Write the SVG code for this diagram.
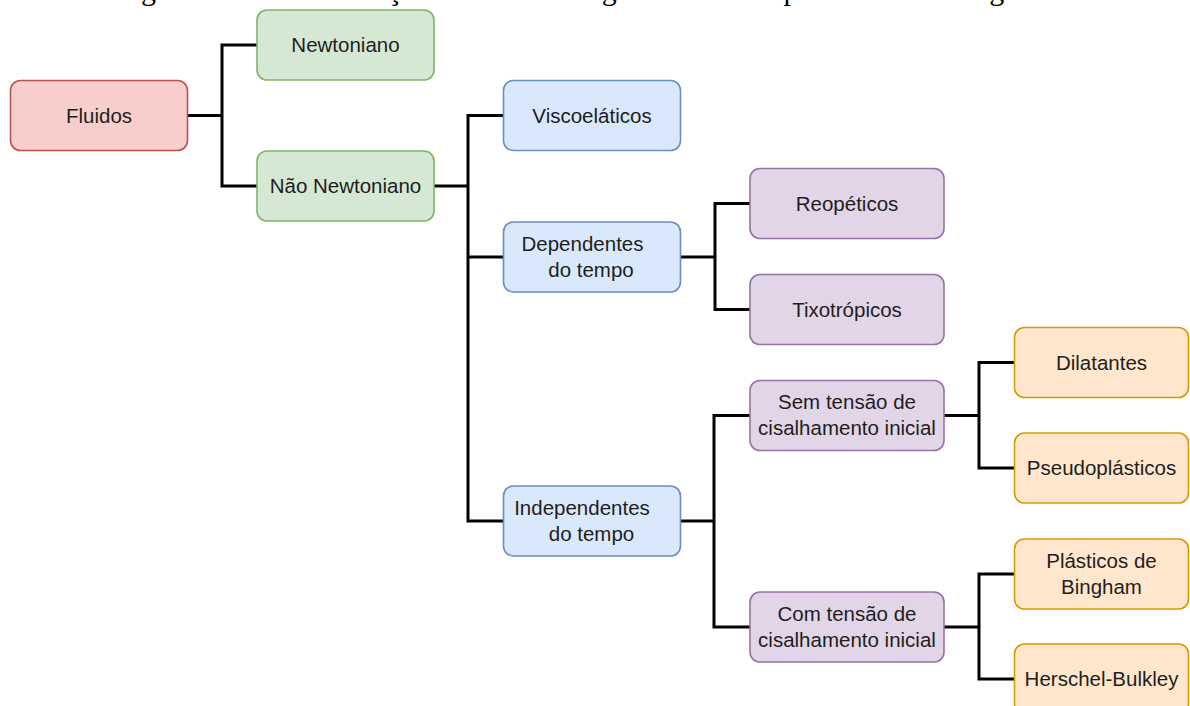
<svg xmlns="http://www.w3.org/2000/svg" width="1190" height="706" viewBox="0 0 1190 706">
<style>
.box{stroke-width:1.6}
.red{fill:#f8cecc;stroke:#b85450}
.green{fill:#d5e8d4;stroke:#82b366}
.blue{fill:#dae8fc;stroke:#6c8ebf}
.purple{fill:#e1d5e7;stroke:#9673a6}
.orange{fill:#ffe6cc;stroke:#d79b00}
.lbl{font-family:"Liberation Sans",Arial,sans-serif;font-size:20.5px;fill:#1e1e1e;text-anchor:middle}
.cap{font-family:"Liberation Serif","Times New Roman",serif;font-size:30px;fill:#000}
.conn{fill:none;stroke:#000;stroke-width:3;stroke-linejoin:miter;stroke-linecap:square}
</style>
<rect width="1190" height="706" fill="#fff"/>
<text class="cap" x="116" y="0.3">Figura 2.1 – Classificação dos fluidos segundo seu comportamento reológico</text>
<g id="connectors">
<path class="conn" d="M188,115.5 H222 M222,45 V186 M222,45 H256 M222,186 H256"/>
<path class="conn" d="M435,186 H468 M468,115.5 V521 M468,115.5 H502 M468,257 H502 M468,521 H502"/>
<path class="conn" d="M681,257 H715 M715,203.5 V309.5 M715,203.5 H749 M715,309.5 H749"/>
<path class="conn" d="M681,521 H714 M714,415.5 V627 M714,415.5 H749 M714,627 H749"/>
<path class="conn" d="M945,415.5 H979 M979,362.5 V468 M979,362.5 H1013 M979,468 H1013"/>
<path class="conn" d="M945,627 H979 M979,574 V679 M979,574 H1013 M979,679 H1013"/>
</g>
<g id="n-fluidos"><rect class="box red" x="10.5" y="80.5" width="177" height="70" rx="10"/><text class="lbl" x="99" y="122.5">Fluidos</text></g>
<g id="n-newtoniano"><rect class="box green" x="257" y="10" width="177" height="70" rx="10"/><text class="lbl" x="345.5" y="52">Newtoniano</text></g>
<g id="n-nao-newtoniano"><rect class="box green" x="257" y="151" width="177" height="70" rx="10"/><text class="lbl" x="345.5" y="193">Não Newtoniano</text></g>
<g id="n-viscoelaticos"><rect class="box blue" x="503.5" y="80.5" width="177" height="70" rx="10"/><text class="lbl" x="592" y="122.5">Viscoeláticos</text></g>
<g id="n-dependentes"><rect class="box blue" x="503.5" y="222" width="177" height="70" rx="10"/><text class="lbl" x="582.5" y="251">Dependentes</text><text class="lbl" x="591" y="277">do tempo</text></g>
<g id="n-independentes"><rect class="box blue" x="503.5" y="486" width="177" height="70" rx="10"/><text class="lbl" x="582" y="515">Independentes</text><text class="lbl" x="591.5" y="541">do tempo</text></g>
<g id="n-reopeticos"><rect class="box purple" x="750" y="168.5" width="194" height="70" rx="10"/><text class="lbl" x="847" y="210.5">Reopéticos</text></g>
<g id="n-tixotropicos"><rect class="box purple" x="750" y="274.5" width="194" height="70" rx="10"/><text class="lbl" x="847" y="316.5">Tixotrópicos</text></g>
<g id="n-sem-tensao"><rect class="box purple" x="750" y="380.5" width="194" height="70" rx="10"/><text class="lbl" x="847" y="409">Sem tensão de</text><text class="lbl" x="847" y="435">cisalhamento inicial</text></g>
<g id="n-com-tensao"><rect class="box purple" x="750" y="592" width="194" height="70" rx="10"/><text class="lbl" x="847" y="620.5">Com tensão de</text><text class="lbl" x="847" y="646.5">cisalhamento inicial</text></g>
<g id="n-dilatantes"><rect class="box orange" x="1014.5" y="327.5" width="174" height="70" rx="10"/><text class="lbl" x="1101.5" y="369.5">Dilatantes</text></g>
<g id="n-pseudoplasticos"><rect class="box orange" x="1014.5" y="433" width="174" height="70" rx="10"/><text class="lbl" x="1101.5" y="475">Pseudoplásticos</text></g>
<g id="n-bingham"><rect class="box orange" x="1014.5" y="539" width="174" height="70" rx="10"/><text class="lbl" x="1101.5" y="567.5">Plásticos de</text><text class="lbl" x="1101.5" y="593.5">Bingham</text></g>
<g id="n-herschel"><rect class="box orange" x="1014.5" y="644" width="174" height="70" rx="10"/><text class="lbl" x="1101.5" y="686">Herschel-Bulkley</text></g>
</svg>
